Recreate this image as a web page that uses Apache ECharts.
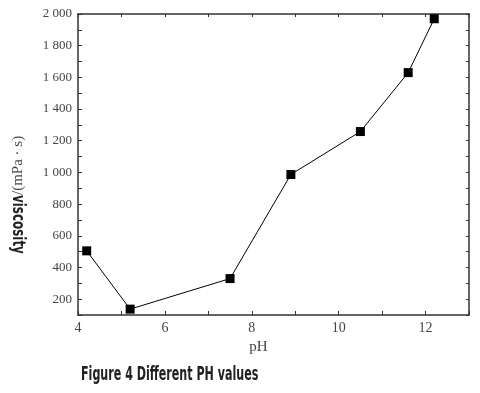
<!DOCTYPE html>
<html><head><meta charset="utf-8">
<script src="https://cdn.jsdelivr.net/npm/echarts@6/dist/echarts.min.js"></script>
<style>html,body{margin:0;padding:0;background:#fff}#c{width:480px;height:393px}</style>
</head><body><div id="c"></div>
<script>
const phValues = [4.2, 5.2, 7.5, 8.9, 10.5, 11.6, 12.2];
const viscosity = [505, 137, 330, 987, 1258, 1630, 1970];
const xTickLabels = ['4', '6', '8', '10', '12'];
const yTickLabels = ['200', '400', '600', '800', '1 000', '1 200', '1 400', '1 600', '1 800', '2 000'];
const xAxisTitle = 'pH';
const yAxisTitleBold = 'viscosity';
const yAxisTitleUnit = '/(mPa · s)';
const caption = 'Figure 4 Different PH values';

const chart = echarts.init(document.getElementById('c'));
const serif = '"Liberation Serif", "DejaVu Serif", serif';
const condensed = '"Liberation Sans Narrow", "DejaVu Sans Condensed", "Roboto Condensed", sans-serif';
const axisLine = {show: true, lineStyle: {color: '#333', width: 1.5}};
function fmtY(v) {
  if (v % 200 !== 0) return '';
  const s = String(v);
  const found = yTickLabels.find(l => l.replace(/\s/g, '') === s);
  return found || '';
}
function fmtX(v) {
  const s = String(v);
  return xTickLabels.includes(s) ? s : '';
}
chart.setOption({
  animation: false,
  grid: {left: 78, right: 11, top: 14, bottom: 78},
  xAxis: [{
    type: 'value', min: 4, max: 13, interval: 1,
    axisLine: axisLine,
    axisTick: {show: true, inside: true, length: 4, lineStyle: {color: '#333'}},
    axisLabel: {formatter: fmtX, color: '#444', fontFamily: serif, fontSize: 14, margin: 6},
    splitLine: {show: false},
    name: xAxisTitle, nameLocation: 'middle', nameGap: 24,
    nameTextStyle: {color: '#444', fontFamily: serif, fontSize: 15, padding: [0, 30, 0, 0]}
  }, {
    type: 'value', position: 'top', min: 4, max: 13, interval: 1,
    axisLine: axisLine,
    axisTick: {show: true, inside: true, length: 3, lineStyle: {color: '#333'}},
    axisLabel: {show: false}, splitLine: {show: false}
  }],
  yAxis: [{
    type: 'value', min: 100, max: 2000, interval: 100,
    axisLine: axisLine,
    axisTick: {show: true, inside: true, length: 4, lineStyle: {color: '#333'}},
    axisLabel: {formatter: fmtY, color: '#444', fontFamily: serif, fontSize: 13, margin: 6, showMinLabel: true, showMaxLabel: true},
    splitLine: {show: false}
  }, {
    type: 'value', position: 'right', min: 100, max: 2000, interval: 100,
    axisLine: axisLine,
    axisTick: {show: true, inside: true, length: 3, lineStyle: {color: '#333'}},
    axisLabel: {show: false}, splitLine: {show: false}
  }],
  series: [{
    type: 'line',
    data: phValues.map((p, i) => [p, viscosity[i]]),
    symbol: 'rect', symbolSize: 9,
    lineStyle: {color: '#000', width: 1},
    itemStyle: {color: '#000'}
  }],
  graphic: [
    {type: 'text', x: 17, y: 195, rotation: -Math.PI / 2, scaleX: 0.78,
     style: {text: yAxisTitleBold, font: 'bold 17px ' + condensed, fill: '#222', textVerticalAlign: 'middle', textAlign: 'left'}},
    {type: 'text', x: 18, y: 195, rotation: Math.PI / 2,
     style: {text: yAxisTitleUnit, font: '15px ' + serif, fill: '#444', textVerticalAlign: 'middle', textAlign: 'left'}},
    {type: 'text', x: 81, y: 366, scaleX: 0.65,
     style: {text: caption, font: 'bold 19px ' + condensed, fill: '#222', textAlign: 'left'}}
  ]
});
</script></body></html>
